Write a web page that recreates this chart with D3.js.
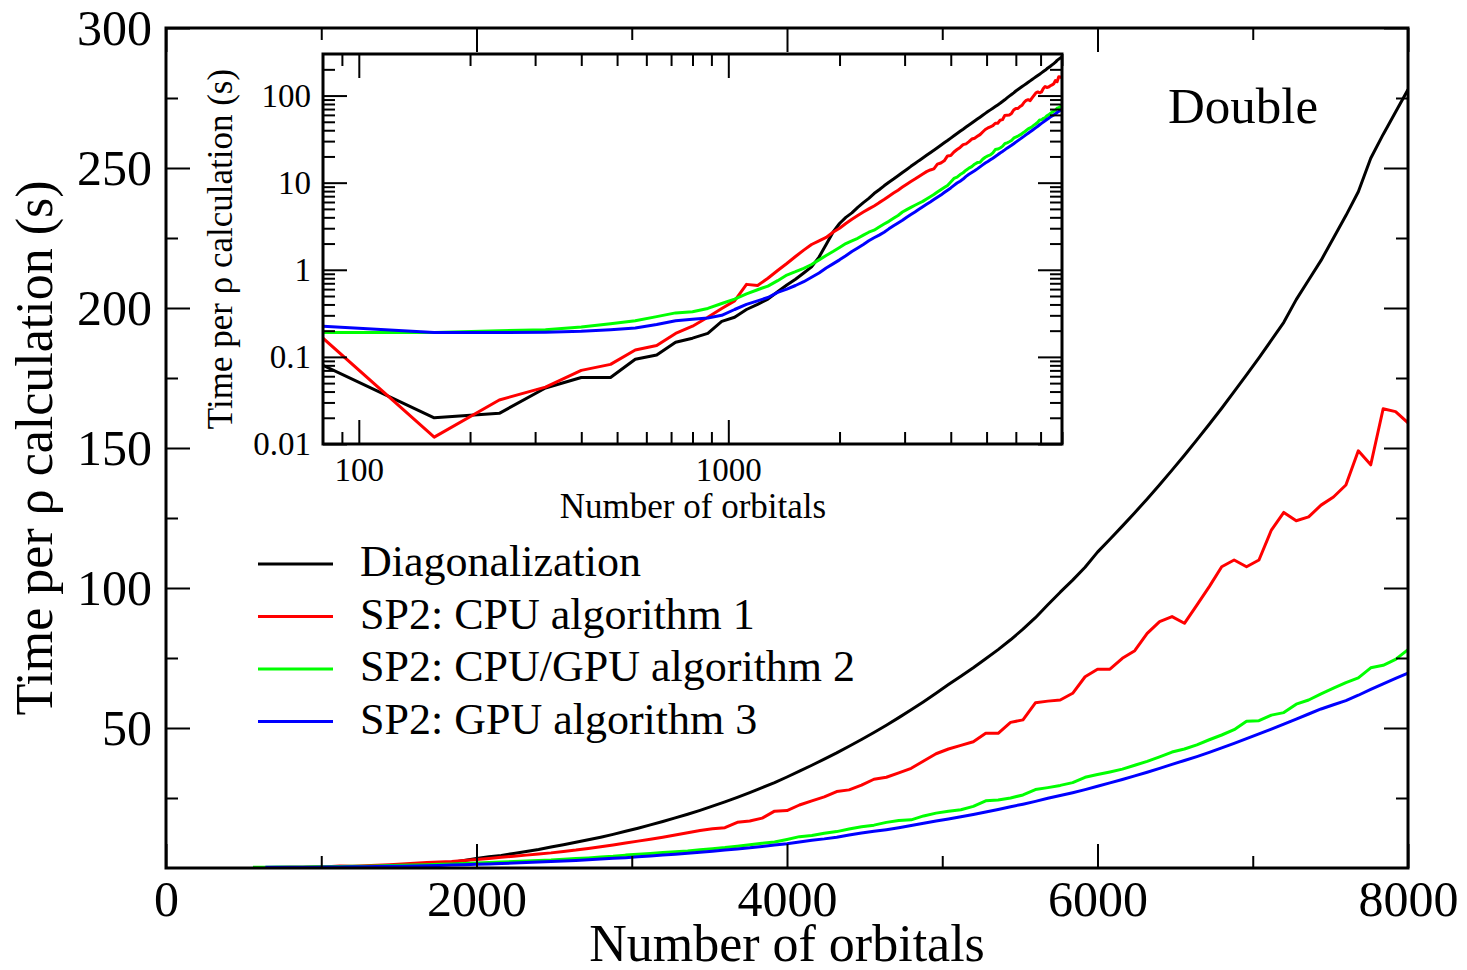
<!DOCTYPE html>
<html>
<head>
<meta charset="utf-8">
<title>SP2 timing</title>
<style>
body { margin: 0; background: #fff; }
svg text { font-family: "Liberation Serif", "Times New Roman", serif; fill: #000; }
</style>
<script src="https://d3js.org/d3.v7.min.js"></script>
</head>
<body>
<svg id="chart" width="1467" height="970"></svg>

<script>
// number of orbitals (same grid for every series)
var orbitals = [80, 160, 240, 320, 400, 480, 560, 640, 720, 800,
  880, 960, 1040, 1120, 1200, 1280, 1360, 1440, 1520, 1600,
  1680, 1760, 1840, 1920, 2000, 2080, 2160, 2240, 2320, 2400,
  2480, 2560, 2640, 2720, 2800, 2880, 2960, 3040, 3120, 3200,
  3280, 3360, 3440, 3520, 3600, 3680, 3760, 3840, 3920, 4000,
  4080, 4160, 4240, 4320, 4400, 4480, 4560, 4640, 4720, 4800,
  4880, 4960, 5040, 5120, 5200, 5280, 5360, 5440, 5520, 5600,
  5680, 5760, 5840, 5920, 6000, 6080, 6160, 6240, 6320, 6400,
  6480, 6560, 6640, 6720, 6800, 6880, 6960, 7040, 7120, 7200,
  7280, 7360, 7440, 7520, 7600, 7680, 7760, 7840, 7920, 8000];

// time per rho calculation (s)
var diagTimes = [0.080, 0.020, 0.0225, 0.044, 0.058, 0.058, 0.094, 0.105, 0.147, 0.164,
  0.186, 0.256, 0.285, 0.35, 0.40, 0.46, 0.56, 0.67, 0.78, 0.92,
  1.08, 1.40, 1.95, 2.7, 3.4, 4.0, 4.5, 5.2, 5.9, 6.6,
  7.5, 8.3, 9.2, 10.1, 11.0, 12.0, 13.1, 14.2, 15.4, 16.6,
  17.9, 19.2, 20.6, 22.1, 23.6, 25.2, 26.9, 28.7, 30.5, 32.5,
  34.6, 36.7, 38.9, 41.1, 43.5, 45.9, 48.4, 51.0, 53.7, 56.5,
  59.4, 62.4, 65.5, 68.5, 71.5, 74.7, 78.0, 81.5, 85.3, 89.4,
  94.0, 98.5, 102.8, 107.4, 112.8, 117.4, 122.1, 126.9, 131.8, 136.9,
  142.1, 147.4, 152.9, 158.5, 164.2, 170.1, 176.1, 182.2, 188.5, 194.9,
  203.0, 210.0, 217.0, 225.0, 233.0, 241.5, 253.5, 262.0, 270.0, 278.0];

var cpuAlg1 = [0.164, 0.012, 0.032, 0.045, 0.070, 0.082, 0.120, 0.135, 0.186, 0.225,
  0.285, 0.36, 0.44, 0.68, 0.66, 0.80, 0.98, 1.18, 1.42, 1.68,
  1.95, 2.15, 2.35, 2.7, 3.0, 3.4, 3.8, 4.2, 4.6, 5.0,
  5.4, 5.9, 6.4, 7.0, 7.6, 8.2, 8.9, 9.6, 10.3, 11.0,
  11.8, 12.6, 13.4, 14.0, 14.4, 16.3, 16.8, 17.8, 20.3, 20.5,
  22.5, 24.0, 25.4, 27.3, 27.9, 29.6, 31.7, 32.4, 34.0, 35.6,
  38.2, 40.8, 42.5, 43.8, 45.1, 48.1, 48.1, 52.0, 52.9, 59.0,
  59.6, 60.0, 62.4, 68.3, 71.0, 71.0, 74.9, 77.6, 83.8, 88.0,
  89.8, 87.4, 93.9, 100.5, 107.6, 110.0, 107.6, 110.0, 120.7, 127.0,
  124.0, 125.4, 129.6, 132.5, 136.8, 149.0, 144.0, 164.0, 163.0, 159.0];

var cpuGpuAlg2 = [0.19, 0.19, 0.20, 0.205, 0.22, 0.24, 0.26, 0.29, 0.32, 0.33,
  0.36, 0.41, 0.46, 0.53, 0.59, 0.65, 0.75, 0.87, 0.95, 1.04,
  1.15, 1.30, 1.46, 1.62, 1.80, 2.0, 2.15, 2.3, 2.5, 2.7,
  2.85, 3.1, 3.35, 3.6, 3.9, 4.2, 4.6, 4.9, 5.2, 5.5,
  5.8, 6.1, 6.5, 6.9, 7.3, 7.8, 8.3, 8.8, 9.3, 10.2,
  11.2, 11.6, 12.4, 13.0, 13.9, 14.7, 15.3, 16.3, 17.0, 17.2,
  18.6, 19.6, 20.3, 20.8, 22.0, 24.0, 24.3, 25.0, 26.1, 28.0,
  28.7, 29.5, 30.5, 32.4, 33.4, 34.3, 35.3, 36.7, 38.1, 39.7,
  41.4, 42.5, 44.0, 45.8, 47.5, 49.4, 52.4, 52.6, 54.6, 55.5,
  58.5, 60.0, 62.2, 64.2, 66.2, 67.9, 71.5, 72.4, 74.5, 78.0];

var gpuAlg3 = [0.225, 0.190, 0.190, 0.192, 0.197, 0.205, 0.215, 0.235, 0.26, 0.27,
  0.28, 0.30, 0.35, 0.40, 0.44, 0.48, 0.55, 0.60, 0.66, 0.73,
  0.82, 0.92, 1.05, 1.17, 1.30, 1.45, 1.62, 1.78, 1.95, 2.15,
  2.33, 2.5, 2.7, 2.95, 3.2, 3.45, 3.7, 4.0, 4.3, 4.6,
  4.95, 5.3, 5.65, 6.0, 6.4, 6.8, 7.2, 7.7, 8.2, 8.7,
  9.3, 9.9, 10.4, 11.0, 11.8, 12.5, 13.1, 13.7, 14.4, 15.2,
  16.0, 16.8, 17.5, 18.3, 19.1, 20.0, 20.9, 21.9, 22.8, 23.8,
  24.9, 25.9, 26.9, 28.0, 29.2, 30.4, 31.6, 32.9, 34.2, 35.6,
  37.0, 38.4, 39.8, 41.3, 42.9, 44.5, 46.2, 47.9, 49.6, 51.4,
  53.2, 55.0, 56.8, 58.3, 59.8, 61.7, 63.8, 65.8, 67.7, 69.6];

var seriesNames = ["Diagonalization", "SP2: CPU algorithm 1", "SP2: CPU/GPU algorithm 2", "SP2: GPU algorithm 3"];
var seriesColors = ["#000000", "#ff0000", "#00ff00", "#0000ff"];
var seriesValues = [diagTimes, cpuAlg1, cpuGpuAlg2, gpuAlg3];
// first orbital count drawn in the linear (main) panel
var mainFrom = [640, 640, 560, 640];

// tick values
var xMajor = [0, 2000, 4000, 6000, 8000];
var xMinor = [1000, 3000, 5000, 7000];
var yMajor = [50, 100, 150, 200, 250, 300];
var yMinor = [25, 75, 125, 175, 225, 275];
var ixMajor = [100, 1000];
var ixMinor = [90, 200, 300, 400, 500, 600, 700, 800, 900, 2000, 3000, 4000, 5000, 6000, 7000, 8000];
var iyMajor = [0.01, 0.1, 1, 10, 100];
var iyMinor = [0.02, 0.03, 0.04, 0.05, 0.06, 0.07, 0.08, 0.09,
  0.2, 0.3, 0.4, 0.5, 0.6, 0.7, 0.8, 0.9,
  2, 3, 4, 5, 6, 7, 8, 9,
  20, 30, 40, 50, 60, 70, 80, 90, 200];

var svg = d3.select("#chart");

var x = d3.scaleLinear().domain([0, 8000]).range([166, 1408]);
var y = d3.scaleLinear().domain([0, 300]).range([868, 28]);
var xi = d3.scaleLog().domain([80, 8000]).range([323, 1062]);
var yi = d3.scaleLog().domain([0.01, 300]).range([444, 54]);

function styleAxis(g, size) {
  g.attr("font-family", null).attr("font-size", size);
  g.select(".domain").remove();
  g.selectAll(".tick line").attr("stroke", "#000").attr("stroke-width", 2);
}

// draws ticks on all four sides of a box, labels only bottom + left
function frameAxes(sx, sy, xMaj, xMin, yMaj, yMin, font, xfmt, yfmt, xpad, ypad, ydy) {
  var l = sx.range()[0], r = sx.range()[1], b = sy.range()[0], t = sy.range()[1];
  var g = svg.append("g");
  g.append("g").attr("transform", "translate(0," + b + ")")
    .call(d3.axisBottom(sx).tickValues(xMaj).tickSize(-24).tickPadding(xpad).tickFormat(xfmt))
    .call(styleAxis, font);
  g.append("g").attr("transform", "translate(0," + b + ")")
    .call(d3.axisBottom(sx).tickValues(xMin).tickSize(-12).tickFormat(""))
    .call(styleAxis, font);
  g.append("g").attr("transform", "translate(0," + t + ")")
    .call(d3.axisTop(sx).tickValues(xMaj).tickSize(-24).tickFormat(""))
    .call(styleAxis, font);
  g.append("g").attr("transform", "translate(0," + t + ")")
    .call(d3.axisTop(sx).tickValues(xMin).tickSize(-12).tickFormat(""))
    .call(styleAxis, font);
  g.append("g").attr("transform", "translate(" + l + ",0)")
    .call(d3.axisLeft(sy).tickValues(yMaj).tickSize(-24).tickPadding(ypad).tickFormat(yfmt))
    .call(styleAxis, font)
    .selectAll("text").attr("dy", ydy);
  g.append("g").attr("transform", "translate(" + l + ",0)")
    .call(d3.axisLeft(sy).tickValues(yMin).tickSize(-12).tickFormat(""))
    .call(styleAxis, font);
  g.append("g").attr("transform", "translate(" + r + ",0)")
    .call(d3.axisRight(sy).tickValues(yMaj).tickSize(-24).tickFormat(""))
    .call(styleAxis, font);
  g.append("g").attr("transform", "translate(" + r + ",0)")
    .call(d3.axisRight(sy).tickValues(yMin).tickSize(-12).tickFormat(""))
    .call(styleAxis, font);
  g.append("rect")
    .attr("x", l).attr("y", t).attr("width", r - l).attr("height", b - t)
    .attr("fill", "none").attr("stroke", "#000").attr("stroke-width", 3);
  return g;
}

var defs = svg.append("defs");
defs.append("clipPath").attr("id", "clipMain").append("rect")
  .attr("x", 166).attr("y", 28).attr("width", 1408 - 166).attr("height", 868 - 28);
defs.append("clipPath").attr("id", "clipInset").append("rect")
  .attr("x", 323).attr("y", 54).attr("width", 1062 - 323).attr("height", 444 - 54);

/* ---- main panel ---- */
var mainLine = d3.line().x(function(d) { return x(d[0]); }).y(function(d) { return y(d[1]); });
var mainG = svg.append("g").attr("clip-path", "url(#clipMain)");
seriesValues.forEach(function(vals, i) {
  var pts = orbitals.map(function(n, j) { return [n, vals[j]]; })
    .filter(function(p) { return p[0] >= mainFrom[i]; });
  mainG.append("path").datum(pts)
    .attr("d", mainLine)
    .attr("fill", "none")
    .attr("stroke", seriesColors[i])
    .attr("stroke-width", 3)
    .attr("stroke-linejoin", "round");
});

frameAxes(x, y, xMajor, xMinor, yMajor, yMinor, 50,
  d3.format("d"), d3.format("d"), 12, 14, "0.33em");

svg.append("text")
  .attr("x", 787).attr("y", 961)
  .attr("text-anchor", "middle").attr("font-size", 52)
  .text("Number of orbitals");
svg.append("text")
  .attr("transform", "translate(52,448) rotate(-90)")
  .attr("text-anchor", "middle").attr("font-size", 52)
  .text("Time per \u03c1 calculation (s)");
svg.append("text")
  .attr("x", 1168).attr("y", 123)
  .attr("font-size", 51)
  .text("Double");

/* ---- legend ---- */
var legend = svg.append("g").attr("transform", "translate(258,564)");
seriesNames.forEach(function(name, i) {
  var row = legend.append("g").attr("transform", "translate(0," + (i * 52.5) + ")");
  row.append("line").attr("x1", 0).attr("x2", 75).attr("y1", 0).attr("y2", 0)
    .attr("stroke", seriesColors[i]).attr("stroke-width", 3);
  row.append("text").attr("x", 102).attr("y", 12).attr("font-size", 44).text(name);
});

/* ---- inset ---- */
svg.append("rect").attr("x", 323).attr("y", 54).attr("width", 1062 - 323).attr("height", 444 - 54)
  .attr("fill", "#fff");
var insetLine = d3.line().x(function(d) { return xi(d[0]); }).y(function(d) { return yi(d[1]); });
var insetG = svg.append("g").attr("clip-path", "url(#clipInset)");
seriesValues.forEach(function(vals, i) {
  var pts = orbitals.map(function(n, j) { return [n, vals[j]]; });
  insetG.append("path").datum(pts)
    .attr("d", insetLine)
    .attr("fill", "none")
    .attr("stroke", seriesColors[i])
    .attr("stroke-width", 3)
    .attr("stroke-linejoin", "round");
});

frameAxes(xi, yi, ixMajor, ixMinor, iyMajor, iyMinor, 33,
  function(d) { return d; }, function(d) { return d; }, 14, 12, "0.32em");

svg.append("text")
  .attr("x", 693).attr("y", 518)
  .attr("text-anchor", "middle").attr("font-size", 35)
  .text("Number of orbitals");
svg.append("text")
  .attr("transform", "translate(232,249) rotate(-90)")
  .attr("text-anchor", "middle").attr("font-size", 35)
  .text("Time per \u03c1 calculation (s)");
</script>
</body>
</html>
